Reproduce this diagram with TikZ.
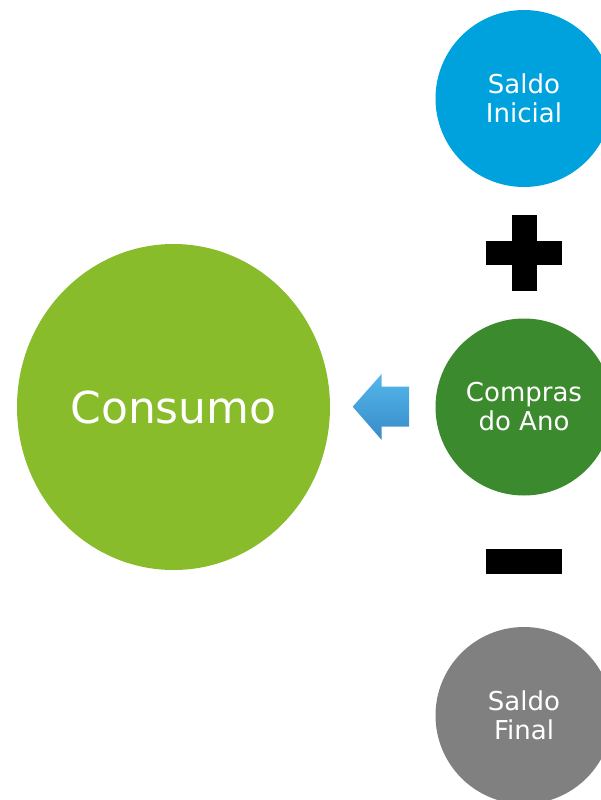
\documentclass[tikz,border=0pt]{standalone}
\usepackage{fontspec}
\setmainfont{DejaVu Sans}
\definecolor{cblue}{RGB}{0,162,222}
\definecolor{cgreen}{RGB}{136,188,42}
\definecolor{cdgreen}{RGB}{60,138,46}
\definecolor{cgray}{RGB}{128,128,128}
\definecolor{arrtop}{RGB}{84,184,236}
\definecolor{arrbot}{RGB}{56,138,200}
\begin{document}
\begin{tikzpicture}[x=1pt,y=-1pt,
  bubble/.style={circle, inner sep=0pt, minimum size=177pt, text=white, align=center,
    font=\fontsize{26}{29}\selectfont},
  signbar/.style={fill=black}]
\useasboundingbox (0,0) rectangle (601,800);
\clip (0,0) rectangle (601,800);
% big ellipse
\fill[cgreen] (173.5,407) ellipse [x radius=156.5, y radius=163];
\node[text=white, font=\fontsize{44}{50}\selectfont] (consumo) at (173.5,407) {Consumo};
% right circles
\node[bubble, fill=cblue] (inicial) at (524,98.5) {Saldo\\Inicial};
\node[bubble, fill=cdgreen] (compras) at (524,407) {Compras\\do Ano};
\node[bubble, fill=cgray] (final) at (524,715.5) {Saldo\\Final};
% plus
\fill[signbar] (512.3,215) rectangle (536.7,290.7);
\fill[signbar] (486,241) rectangle (562.3,265);
% minus
\fill[signbar] (486,549) rectangle (562.3,573.7);
% arrow
\shade[top color=arrtop, bottom color=arrbot]
  (352.7,406.7) -- (381.7,374) -- (381.7,386.7) -- (409,386.7) -- (409,426.7)
  -- (381.7,426.7) -- (381.7,440) -- cycle;
\end{tikzpicture}
\end{document}
